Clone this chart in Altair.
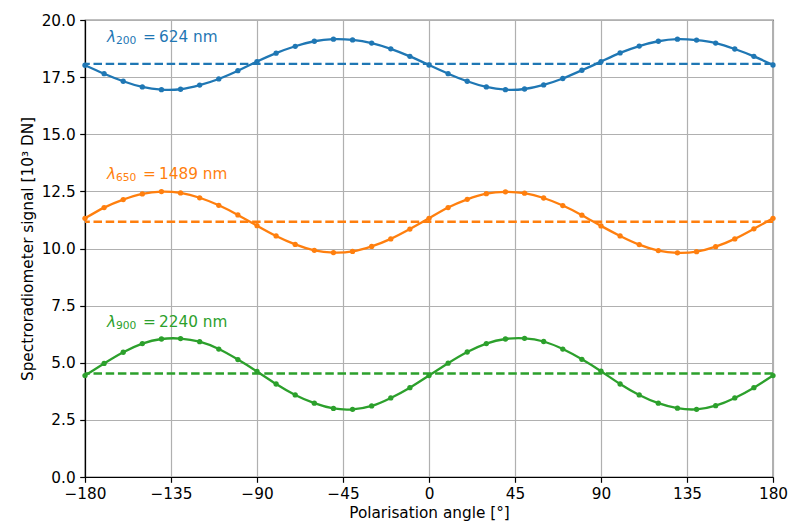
import altair as alt
import pandas as pd

# ---- data ----
angles = [-180, -170, -160, -150, -140, -130, -120, -110, -100, -90, -80, -70, -60,
          -50, -40, -30, -20, -10, 0, 10, 20, 30, 40, 50, 60, 70, 80, 90, 100, 110,
          120, 130, 140, 150, 160, 170, 180]

signal_200 = [18.02, 17.65, 17.32, 17.07, 16.95, 16.97, 17.15, 17.42, 17.78, 18.18,
              18.55, 18.85, 19.07, 19.16, 19.13, 18.99, 18.74, 18.41, 18.03, 17.65,
              17.32, 17.07, 16.95, 16.98, 17.16, 17.44, 17.80, 18.18, 18.56, 18.86,
              19.07, 19.16, 19.12, 18.99, 18.73, 18.41, 18.03]

signal_650 = [11.32, 11.79, 12.14, 12.39, 12.49, 12.43, 12.22, 11.89, 11.47, 11.00,
              10.55, 10.18, 9.92, 9.82, 9.87, 10.09, 10.42, 10.85, 11.32, 11.79,
              12.15, 12.40, 12.48, 12.42, 12.21, 11.88, 11.46, 10.99, 10.55, 10.17,
              9.91, 9.81, 9.86, 10.08, 10.42, 10.86, 11.32]

signal_900 = [4.44, 4.97, 5.46, 5.84, 6.04, 6.06, 5.92, 5.60, 5.14, 4.62,
              4.07, 3.59, 3.23, 3.00, 2.96, 3.11, 3.46, 3.91, 4.44, 4.98,
              5.47, 5.84, 6.04, 6.07, 5.93, 5.60, 5.15, 4.63, 4.07, 3.59,
              3.23, 3.01, 2.96, 3.12, 3.46, 3.91, 4.44]

series_names = ["lambda200", "lambda650", "lambda900"]
mean_levels = [18.08, 11.17, 4.53]
series_colors = ["#1f77b4", "#ff7f0e", "#2ca02c"]
subscripts = ["200", "650", "900"]
value_texts = ["\u00a0624 nm", "1489 nm", "2240 nm"]
label_x = [-168.5, -168.5, -168.5]
label_y = [19.05, 13.06, 6.57]

x_ticks = [-180, -135, -90, -45, 0, 45, 90, 135, 180]
y_ticks = [0, 2.5, 5, 7.5, 10, 12.5, 15, 17.5, 20]

# ---- tables ----
rows = []
for name, vals in zip(series_names, [signal_200, signal_650, signal_900]):
    for a, v in zip(angles, vals):
        rows.append({"angle": a, "signal": v, "series": name})
df = pd.DataFrame(rows)

means_df = pd.DataFrame({"series": series_names, "mean": mean_levels})
labels_df = pd.DataFrame({"series": series_names, "x": label_x, "y": label_y,
                          "sub": subscripts, "val": value_texts})

FS = 15.3

color = alt.Color("series:N", scale=alt.Scale(domain=series_names, range=series_colors),
                  legend=None)

x_scale = alt.Scale(domain=[-180, 180], nice=False, zero=False)
y_scale = alt.Scale(domain=[0, 20], nice=False)

x_enc = alt.X("angle:Q", scale=x_scale,
              axis=alt.Axis(values=x_ticks, title="Polarisation angle [°]",
                            labelFlush=False, labelOverlap=False, titlePadding=3))
y_enc = alt.Y("signal:Q", scale=y_scale,
              axis=alt.Axis(values=y_ticks, format=".1f",
                            title="Spectroradiometer signal [10³ DN]",
                            labelOverlap=False, titlePadding=6))

base = alt.Chart(df).encode(x=x_enc, y=y_enc, color=color)
lines = base.mark_line(strokeWidth=2.3, interpolate="natural")
points = base.mark_circle(size=28, opacity=1)

rules = alt.Chart(means_df).mark_rule(strokeWidth=2.3, strokeDash=[8.5, 3.7]).encode(
    y=alt.Y("mean:Q", scale=y_scale), color=color)

lab_base = alt.Chart(labels_df).encode(
    x=alt.X("x:Q", scale=x_scale), y=alt.Y("y:Q", scale=y_scale), color=color)

lam = lab_base.mark_text(align="left", baseline="alphabetic", font="DejaVu Sans",
                         fontSize=FS, fontStyle="italic").encode(text=alt.value("λ"))
sub = lab_base.mark_text(align="left", baseline="alphabetic", font="DejaVu Sans",
                         fontSize=10.7, dx=9, dy=2.5).encode(text="sub:N")
eq = lab_base.mark_text(align="left", baseline="alphabetic", font="DejaVu Sans",
                        fontSize=FS, dx=36).encode(text=alt.value("="))
val = lab_base.mark_text(align="left", baseline="alphabetic", font="DejaVu Sans",
                         fontSize=FS, dx=52).encode(text="val:N")

chart = alt.layer(lines, points, rules, lam, sub, eq, val).properties(
    width=688, height=457,
    autosize=alt.AutoSizeParams(type="none"),
    padding={"left": 85, "top": 20, "right": 15, "bottom": 45},
).configure_axis(
    domainColor="black", domainWidth=1.2,
    tickColor="black", tickWidth=1.2, tickSize=5.3,
    labelFont="DejaVu Sans", labelFontSize=FS, labelColor="black", labelPadding=4.5,
    titleFont="DejaVu Sans", titleFontSize=FS, titleFontWeight="normal", titleColor="black",
    gridColor="#b0b0b0", gridWidth=1.2,
).configure_view(stroke="black", strokeWidth=1.2)

chart.save("out.html", embed_options={"renderer": "svg", "actions": False})
